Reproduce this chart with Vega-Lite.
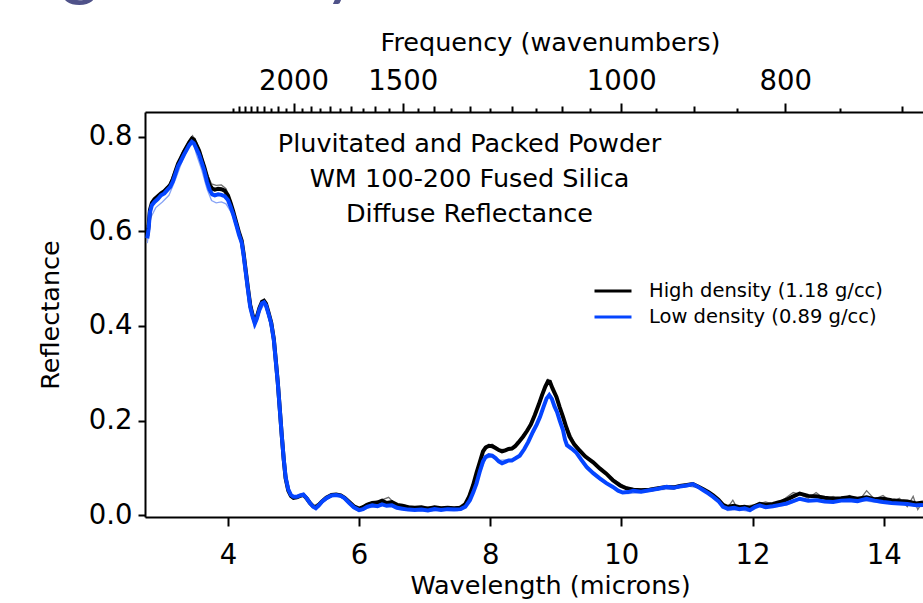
{
  "$schema": "https://vega.github.io/schema/vega-lite/v6.json",
  "autosize": {"type": "none"},
  "padding": {"left": 145, "top": 112, "right": 0, "bottom": 86},
  "width": 778,
  "height": 405,
  "background": "white",
  "title": {
    "text": "Packing Density",
    "anchor": "start",
    "frame": "group",
    "orient": "top",
    "font": "Lato",
    "fontSize": 72,
    "fontWeight": "normal",
    "color": "#4f5289",
    "baseline": "alphabetic",
    "dx": -290,
    "dy": 34,
    "offset": 0
  },
  "config": {
    "view": {"stroke": null},
    "axis": {
      "domainColor": "black",
      "tickColor": "black",
      "labelColor": "black",
      "titleColor": "black",
      "labelFont": "DejaVu Sans",
      "titleFont": "DejaVu Sans",
      "titleFontWeight": "normal",
      "labelFontSize": 27.5,
      "titleFontSize": 25.5,
      "domainWidth": 2,
      "tickWidth": 2,
      "grid": false
    }
  },
  "datasets": {
    "main": [
      {"wl": 2.77, "R": 0.590, "series": "High density (1.18 g/cc)"},
      {"wl": 2.79, "R": 0.612, "series": "High density (1.18 g/cc)"},
      {"wl": 2.81, "R": 0.645, "series": "High density (1.18 g/cc)"},
      {"wl": 2.84, "R": 0.660, "series": "High density (1.18 g/cc)"},
      {"wl": 2.88, "R": 0.668, "series": "High density (1.18 g/cc)"},
      {"wl": 2.93, "R": 0.674, "series": "High density (1.18 g/cc)"},
      {"wl": 2.98, "R": 0.680, "series": "High density (1.18 g/cc)"},
      {"wl": 3.03, "R": 0.685, "series": "High density (1.18 g/cc)"},
      {"wl": 3.08, "R": 0.692, "series": "High density (1.18 g/cc)"},
      {"wl": 3.12, "R": 0.698, "series": "High density (1.18 g/cc)"},
      {"wl": 3.16, "R": 0.710, "series": "High density (1.18 g/cc)"},
      {"wl": 3.20, "R": 0.727, "series": "High density (1.18 g/cc)"},
      {"wl": 3.24, "R": 0.743, "series": "High density (1.18 g/cc)"},
      {"wl": 3.28, "R": 0.754, "series": "High density (1.18 g/cc)"},
      {"wl": 3.33, "R": 0.768, "series": "High density (1.18 g/cc)"},
      {"wl": 3.37, "R": 0.778, "series": "High density (1.18 g/cc)"},
      {"wl": 3.41, "R": 0.788, "series": "High density (1.18 g/cc)"},
      {"wl": 3.45, "R": 0.796, "series": "High density (1.18 g/cc)"},
      {"wl": 3.48, "R": 0.794, "series": "High density (1.18 g/cc)"},
      {"wl": 3.52, "R": 0.782, "series": "High density (1.18 g/cc)"},
      {"wl": 3.56, "R": 0.770, "series": "High density (1.18 g/cc)"},
      {"wl": 3.60, "R": 0.752, "series": "High density (1.18 g/cc)"},
      {"wl": 3.64, "R": 0.735, "series": "High density (1.18 g/cc)"},
      {"wl": 3.68, "R": 0.715, "series": "High density (1.18 g/cc)"},
      {"wl": 3.72, "R": 0.698, "series": "High density (1.18 g/cc)"},
      {"wl": 3.76, "R": 0.690, "series": "High density (1.18 g/cc)"},
      {"wl": 3.80, "R": 0.688, "series": "High density (1.18 g/cc)"},
      {"wl": 3.85, "R": 0.690, "series": "High density (1.18 g/cc)"},
      {"wl": 3.90, "R": 0.689, "series": "High density (1.18 g/cc)"},
      {"wl": 3.95, "R": 0.686, "series": "High density (1.18 g/cc)"},
      {"wl": 4.00, "R": 0.676, "series": "High density (1.18 g/cc)"},
      {"wl": 4.04, "R": 0.660, "series": "High density (1.18 g/cc)"},
      {"wl": 4.08, "R": 0.642, "series": "High density (1.18 g/cc)"},
      {"wl": 4.13, "R": 0.617, "series": "High density (1.18 g/cc)"},
      {"wl": 4.17, "R": 0.597, "series": "High density (1.18 g/cc)"},
      {"wl": 4.21, "R": 0.580, "series": "High density (1.18 g/cc)"},
      {"wl": 4.24, "R": 0.552, "series": "High density (1.18 g/cc)"},
      {"wl": 4.27, "R": 0.518, "series": "High density (1.18 g/cc)"},
      {"wl": 4.30, "R": 0.485, "series": "High density (1.18 g/cc)"},
      {"wl": 4.34, "R": 0.444, "series": "High density (1.18 g/cc)"},
      {"wl": 4.38, "R": 0.421, "series": "High density (1.18 g/cc)"},
      {"wl": 4.41, "R": 0.409, "series": "High density (1.18 g/cc)"},
      {"wl": 4.44, "R": 0.419, "series": "High density (1.18 g/cc)"},
      {"wl": 4.48, "R": 0.438, "series": "High density (1.18 g/cc)"},
      {"wl": 4.52, "R": 0.451, "series": "High density (1.18 g/cc)"},
      {"wl": 4.55, "R": 0.453, "series": "High density (1.18 g/cc)"},
      {"wl": 4.58, "R": 0.447, "series": "High density (1.18 g/cc)"},
      {"wl": 4.62, "R": 0.428, "series": "High density (1.18 g/cc)"},
      {"wl": 4.66, "R": 0.407, "series": "High density (1.18 g/cc)"},
      {"wl": 4.70, "R": 0.372, "series": "High density (1.18 g/cc)"},
      {"wl": 4.73, "R": 0.327, "series": "High density (1.18 g/cc)"},
      {"wl": 4.76, "R": 0.281, "series": "High density (1.18 g/cc)"},
      {"wl": 4.79, "R": 0.226, "series": "High density (1.18 g/cc)"},
      {"wl": 4.82, "R": 0.170, "series": "High density (1.18 g/cc)"},
      {"wl": 4.85, "R": 0.119, "series": "High density (1.18 g/cc)"},
      {"wl": 4.88, "R": 0.078, "series": "High density (1.18 g/cc)"},
      {"wl": 4.92, "R": 0.052, "series": "High density (1.18 g/cc)"},
      {"wl": 4.96, "R": 0.041, "series": "High density (1.18 g/cc)"},
      {"wl": 5.00, "R": 0.037, "series": "High density (1.18 g/cc)"},
      {"wl": 5.05, "R": 0.038, "series": "High density (1.18 g/cc)"},
      {"wl": 5.10, "R": 0.041, "series": "High density (1.18 g/cc)"},
      {"wl": 5.15, "R": 0.043, "series": "High density (1.18 g/cc)"},
      {"wl": 5.20, "R": 0.036, "series": "High density (1.18 g/cc)"},
      {"wl": 5.25, "R": 0.026, "series": "High density (1.18 g/cc)"},
      {"wl": 5.30, "R": 0.019, "series": "High density (1.18 g/cc)"},
      {"wl": 5.34, "R": 0.017, "series": "High density (1.18 g/cc)"},
      {"wl": 5.38, "R": 0.021, "series": "High density (1.18 g/cc)"},
      {"wl": 5.43, "R": 0.029, "series": "High density (1.18 g/cc)"},
      {"wl": 5.50, "R": 0.037, "series": "High density (1.18 g/cc)"},
      {"wl": 5.58, "R": 0.043, "series": "High density (1.18 g/cc)"},
      {"wl": 5.65, "R": 0.044, "series": "High density (1.18 g/cc)"},
      {"wl": 5.72, "R": 0.042, "series": "High density (1.18 g/cc)"},
      {"wl": 5.78, "R": 0.037, "series": "High density (1.18 g/cc)"},
      {"wl": 5.85, "R": 0.028, "series": "High density (1.18 g/cc)"},
      {"wl": 5.92, "R": 0.019, "series": "High density (1.18 g/cc)"},
      {"wl": 6.00, "R": 0.014, "series": "High density (1.18 g/cc)"},
      {"wl": 6.06, "R": 0.017, "series": "High density (1.18 g/cc)"},
      {"wl": 6.12, "R": 0.022, "series": "High density (1.18 g/cc)"},
      {"wl": 6.20, "R": 0.026, "series": "High density (1.18 g/cc)"},
      {"wl": 6.28, "R": 0.027, "series": "High density (1.18 g/cc)"},
      {"wl": 6.35, "R": 0.031, "series": "High density (1.18 g/cc)"},
      {"wl": 6.42, "R": 0.026, "series": "High density (1.18 g/cc)"},
      {"wl": 6.50, "R": 0.028, "series": "High density (1.18 g/cc)"},
      {"wl": 6.58, "R": 0.022, "series": "High density (1.18 g/cc)"},
      {"wl": 6.66, "R": 0.020, "series": "High density (1.18 g/cc)"},
      {"wl": 6.75, "R": 0.017, "series": "High density (1.18 g/cc)"},
      {"wl": 6.85, "R": 0.016, "series": "High density (1.18 g/cc)"},
      {"wl": 6.95, "R": 0.017, "series": "High density (1.18 g/cc)"},
      {"wl": 7.05, "R": 0.014, "series": "High density (1.18 g/cc)"},
      {"wl": 7.15, "R": 0.017, "series": "High density (1.18 g/cc)"},
      {"wl": 7.25, "R": 0.015, "series": "High density (1.18 g/cc)"},
      {"wl": 7.35, "R": 0.016, "series": "High density (1.18 g/cc)"},
      {"wl": 7.45, "R": 0.015, "series": "High density (1.18 g/cc)"},
      {"wl": 7.55, "R": 0.016, "series": "High density (1.18 g/cc)"},
      {"wl": 7.62, "R": 0.024, "series": "High density (1.18 g/cc)"},
      {"wl": 7.68, "R": 0.040, "series": "High density (1.18 g/cc)"},
      {"wl": 7.74, "R": 0.064, "series": "High density (1.18 g/cc)"},
      {"wl": 7.79, "R": 0.089, "series": "High density (1.18 g/cc)"},
      {"wl": 7.84, "R": 0.112, "series": "High density (1.18 g/cc)"},
      {"wl": 7.89, "R": 0.135, "series": "High density (1.18 g/cc)"},
      {"wl": 7.93, "R": 0.143, "series": "High density (1.18 g/cc)"},
      {"wl": 7.98, "R": 0.147, "series": "High density (1.18 g/cc)"},
      {"wl": 8.03, "R": 0.146, "series": "High density (1.18 g/cc)"},
      {"wl": 8.08, "R": 0.142, "series": "High density (1.18 g/cc)"},
      {"wl": 8.13, "R": 0.138, "series": "High density (1.18 g/cc)"},
      {"wl": 8.18, "R": 0.135, "series": "High density (1.18 g/cc)"},
      {"wl": 8.23, "R": 0.137, "series": "High density (1.18 g/cc)"},
      {"wl": 8.28, "R": 0.140, "series": "High density (1.18 g/cc)"},
      {"wl": 8.33, "R": 0.141, "series": "High density (1.18 g/cc)"},
      {"wl": 8.38, "R": 0.146, "series": "High density (1.18 g/cc)"},
      {"wl": 8.43, "R": 0.154, "series": "High density (1.18 g/cc)"},
      {"wl": 8.50, "R": 0.166, "series": "High density (1.18 g/cc)"},
      {"wl": 8.56, "R": 0.178, "series": "High density (1.18 g/cc)"},
      {"wl": 8.62, "R": 0.192, "series": "High density (1.18 g/cc)"},
      {"wl": 8.68, "R": 0.212, "series": "High density (1.18 g/cc)"},
      {"wl": 8.74, "R": 0.234, "series": "High density (1.18 g/cc)"},
      {"wl": 8.79, "R": 0.254, "series": "High density (1.18 g/cc)"},
      {"wl": 8.84, "R": 0.272, "series": "High density (1.18 g/cc)"},
      {"wl": 8.88, "R": 0.283, "series": "High density (1.18 g/cc)"},
      {"wl": 8.91, "R": 0.282, "series": "High density (1.18 g/cc)"},
      {"wl": 8.95, "R": 0.268, "series": "High density (1.18 g/cc)"},
      {"wl": 9.01, "R": 0.250, "series": "High density (1.18 g/cc)"},
      {"wl": 9.06, "R": 0.228, "series": "High density (1.18 g/cc)"},
      {"wl": 9.11, "R": 0.208, "series": "High density (1.18 g/cc)"},
      {"wl": 9.16, "R": 0.186, "series": "High density (1.18 g/cc)"},
      {"wl": 9.21, "R": 0.166, "series": "High density (1.18 g/cc)"},
      {"wl": 9.28, "R": 0.150, "series": "High density (1.18 g/cc)"},
      {"wl": 9.36, "R": 0.137, "series": "High density (1.18 g/cc)"},
      {"wl": 9.45, "R": 0.124, "series": "High density (1.18 g/cc)"},
      {"wl": 9.57, "R": 0.112, "series": "High density (1.18 g/cc)"},
      {"wl": 9.67, "R": 0.099, "series": "High density (1.18 g/cc)"},
      {"wl": 9.77, "R": 0.088, "series": "High density (1.18 g/cc)"},
      {"wl": 9.87, "R": 0.074, "series": "High density (1.18 g/cc)"},
      {"wl": 9.98, "R": 0.063, "series": "High density (1.18 g/cc)"},
      {"wl": 10.08, "R": 0.057, "series": "High density (1.18 g/cc)"},
      {"wl": 10.18, "R": 0.054, "series": "High density (1.18 g/cc)"},
      {"wl": 10.30, "R": 0.053, "series": "High density (1.18 g/cc)"},
      {"wl": 10.43, "R": 0.054, "series": "High density (1.18 g/cc)"},
      {"wl": 10.56, "R": 0.057, "series": "High density (1.18 g/cc)"},
      {"wl": 10.69, "R": 0.060, "series": "High density (1.18 g/cc)"},
      {"wl": 10.80, "R": 0.059, "series": "High density (1.18 g/cc)"},
      {"wl": 10.89, "R": 0.062, "series": "High density (1.18 g/cc)"},
      {"wl": 11.00, "R": 0.064, "series": "High density (1.18 g/cc)"},
      {"wl": 11.09, "R": 0.066, "series": "High density (1.18 g/cc)"},
      {"wl": 11.17, "R": 0.061, "series": "High density (1.18 g/cc)"},
      {"wl": 11.25, "R": 0.055, "series": "High density (1.18 g/cc)"},
      {"wl": 11.33, "R": 0.049, "series": "High density (1.18 g/cc)"},
      {"wl": 11.40, "R": 0.042, "series": "High density (1.18 g/cc)"},
      {"wl": 11.48, "R": 0.033, "series": "High density (1.18 g/cc)"},
      {"wl": 11.55, "R": 0.022, "series": "High density (1.18 g/cc)"},
      {"wl": 11.62, "R": 0.018, "series": "High density (1.18 g/cc)"},
      {"wl": 11.72, "R": 0.020, "series": "High density (1.18 g/cc)"},
      {"wl": 11.80, "R": 0.017, "series": "High density (1.18 g/cc)"},
      {"wl": 11.88, "R": 0.018, "series": "High density (1.18 g/cc)"},
      {"wl": 11.96, "R": 0.015, "series": "High density (1.18 g/cc)"},
      {"wl": 12.04, "R": 0.020, "series": "High density (1.18 g/cc)"},
      {"wl": 12.11, "R": 0.024, "series": "High density (1.18 g/cc)"},
      {"wl": 12.20, "R": 0.022, "series": "High density (1.18 g/cc)"},
      {"wl": 12.31, "R": 0.024, "series": "High density (1.18 g/cc)"},
      {"wl": 12.42, "R": 0.028, "series": "High density (1.18 g/cc)"},
      {"wl": 12.52, "R": 0.033, "series": "High density (1.18 g/cc)"},
      {"wl": 12.62, "R": 0.040, "series": "High density (1.18 g/cc)"},
      {"wl": 12.72, "R": 0.046, "series": "High density (1.18 g/cc)"},
      {"wl": 12.85, "R": 0.041, "series": "High density (1.18 g/cc)"},
      {"wl": 12.97, "R": 0.040, "series": "High density (1.18 g/cc)"},
      {"wl": 13.10, "R": 0.037, "series": "High density (1.18 g/cc)"},
      {"wl": 13.23, "R": 0.035, "series": "High density (1.18 g/cc)"},
      {"wl": 13.35, "R": 0.036, "series": "High density (1.18 g/cc)"},
      {"wl": 13.48, "R": 0.038, "series": "High density (1.18 g/cc)"},
      {"wl": 13.60, "R": 0.035, "series": "High density (1.18 g/cc)"},
      {"wl": 13.74, "R": 0.038, "series": "High density (1.18 g/cc)"},
      {"wl": 13.86, "R": 0.034, "series": "High density (1.18 g/cc)"},
      {"wl": 13.99, "R": 0.035, "series": "High density (1.18 g/cc)"},
      {"wl": 14.12, "R": 0.032, "series": "High density (1.18 g/cc)"},
      {"wl": 14.24, "R": 0.030, "series": "High density (1.18 g/cc)"},
      {"wl": 14.36, "R": 0.029, "series": "High density (1.18 g/cc)"},
      {"wl": 14.50, "R": 0.025, "series": "High density (1.18 g/cc)"},
      {"wl": 14.60, "R": 0.027, "series": "High density (1.18 g/cc)"},

      {"wl": 2.77, "R": 0.585, "series": "Low density (0.89 g/cc)"},
      {"wl": 2.79, "R": 0.605, "series": "Low density (0.89 g/cc)"},
      {"wl": 2.81, "R": 0.640, "series": "Low density (0.89 g/cc)"},
      {"wl": 2.84, "R": 0.655, "series": "Low density (0.89 g/cc)"},
      {"wl": 2.88, "R": 0.662, "series": "Low density (0.89 g/cc)"},
      {"wl": 2.93, "R": 0.668, "series": "Low density (0.89 g/cc)"},
      {"wl": 2.98, "R": 0.676, "series": "Low density (0.89 g/cc)"},
      {"wl": 3.03, "R": 0.680, "series": "Low density (0.89 g/cc)"},
      {"wl": 3.08, "R": 0.688, "series": "Low density (0.89 g/cc)"},
      {"wl": 3.12, "R": 0.694, "series": "Low density (0.89 g/cc)"},
      {"wl": 3.16, "R": 0.705, "series": "Low density (0.89 g/cc)"},
      {"wl": 3.20, "R": 0.722, "series": "Low density (0.89 g/cc)"},
      {"wl": 3.24, "R": 0.738, "series": "Low density (0.89 g/cc)"},
      {"wl": 3.28, "R": 0.748, "series": "Low density (0.89 g/cc)"},
      {"wl": 3.33, "R": 0.762, "series": "Low density (0.89 g/cc)"},
      {"wl": 3.37, "R": 0.772, "series": "Low density (0.89 g/cc)"},
      {"wl": 3.41, "R": 0.782, "series": "Low density (0.89 g/cc)"},
      {"wl": 3.45, "R": 0.789, "series": "Low density (0.89 g/cc)"},
      {"wl": 3.48, "R": 0.786, "series": "Low density (0.89 g/cc)"},
      {"wl": 3.52, "R": 0.774, "series": "Low density (0.89 g/cc)"},
      {"wl": 3.56, "R": 0.762, "series": "Low density (0.89 g/cc)"},
      {"wl": 3.60, "R": 0.745, "series": "Low density (0.89 g/cc)"},
      {"wl": 3.64, "R": 0.728, "series": "Low density (0.89 g/cc)"},
      {"wl": 3.68, "R": 0.705, "series": "Low density (0.89 g/cc)"},
      {"wl": 3.72, "R": 0.688, "series": "Low density (0.89 g/cc)"},
      {"wl": 3.76, "R": 0.678, "series": "Low density (0.89 g/cc)"},
      {"wl": 3.80, "R": 0.676, "series": "Low density (0.89 g/cc)"},
      {"wl": 3.85, "R": 0.678, "series": "Low density (0.89 g/cc)"},
      {"wl": 3.90, "R": 0.677, "series": "Low density (0.89 g/cc)"},
      {"wl": 3.95, "R": 0.674, "series": "Low density (0.89 g/cc)"},
      {"wl": 4.00, "R": 0.666, "series": "Low density (0.89 g/cc)"},
      {"wl": 4.04, "R": 0.652, "series": "Low density (0.89 g/cc)"},
      {"wl": 4.08, "R": 0.636, "series": "Low density (0.89 g/cc)"},
      {"wl": 4.13, "R": 0.612, "series": "Low density (0.89 g/cc)"},
      {"wl": 4.17, "R": 0.592, "series": "Low density (0.89 g/cc)"},
      {"wl": 4.21, "R": 0.576, "series": "Low density (0.89 g/cc)"},
      {"wl": 4.24, "R": 0.548, "series": "Low density (0.89 g/cc)"},
      {"wl": 4.27, "R": 0.515, "series": "Low density (0.89 g/cc)"},
      {"wl": 4.30, "R": 0.482, "series": "Low density (0.89 g/cc)"},
      {"wl": 4.34, "R": 0.440, "series": "Low density (0.89 g/cc)"},
      {"wl": 4.38, "R": 0.418, "series": "Low density (0.89 g/cc)"},
      {"wl": 4.41, "R": 0.405, "series": "Low density (0.89 g/cc)"},
      {"wl": 4.44, "R": 0.415, "series": "Low density (0.89 g/cc)"},
      {"wl": 4.48, "R": 0.435, "series": "Low density (0.89 g/cc)"},
      {"wl": 4.52, "R": 0.448, "series": "Low density (0.89 g/cc)"},
      {"wl": 4.55, "R": 0.450, "series": "Low density (0.89 g/cc)"},
      {"wl": 4.58, "R": 0.444, "series": "Low density (0.89 g/cc)"},
      {"wl": 4.62, "R": 0.425, "series": "Low density (0.89 g/cc)"},
      {"wl": 4.66, "R": 0.405, "series": "Low density (0.89 g/cc)"},
      {"wl": 4.70, "R": 0.370, "series": "Low density (0.89 g/cc)"},
      {"wl": 4.73, "R": 0.325, "series": "Low density (0.89 g/cc)"},
      {"wl": 4.76, "R": 0.280, "series": "Low density (0.89 g/cc)"},
      {"wl": 4.79, "R": 0.225, "series": "Low density (0.89 g/cc)"},
      {"wl": 4.82, "R": 0.170, "series": "Low density (0.89 g/cc)"},
      {"wl": 4.85, "R": 0.120, "series": "Low density (0.89 g/cc)"},
      {"wl": 4.88, "R": 0.080, "series": "Low density (0.89 g/cc)"},
      {"wl": 4.92, "R": 0.055, "series": "Low density (0.89 g/cc)"},
      {"wl": 4.96, "R": 0.043, "series": "Low density (0.89 g/cc)"},
      {"wl": 5.00, "R": 0.039, "series": "Low density (0.89 g/cc)"},
      {"wl": 5.05, "R": 0.039, "series": "Low density (0.89 g/cc)"},
      {"wl": 5.10, "R": 0.042, "series": "Low density (0.89 g/cc)"},
      {"wl": 5.15, "R": 0.044, "series": "Low density (0.89 g/cc)"},
      {"wl": 5.20, "R": 0.036, "series": "Low density (0.89 g/cc)"},
      {"wl": 5.25, "R": 0.026, "series": "Low density (0.89 g/cc)"},
      {"wl": 5.30, "R": 0.018, "series": "Low density (0.89 g/cc)"},
      {"wl": 5.34, "R": 0.015, "series": "Low density (0.89 g/cc)"},
      {"wl": 5.38, "R": 0.020, "series": "Low density (0.89 g/cc)"},
      {"wl": 5.43, "R": 0.028, "series": "Low density (0.89 g/cc)"},
      {"wl": 5.50, "R": 0.036, "series": "Low density (0.89 g/cc)"},
      {"wl": 5.58, "R": 0.042, "series": "Low density (0.89 g/cc)"},
      {"wl": 5.65, "R": 0.043, "series": "Low density (0.89 g/cc)"},
      {"wl": 5.72, "R": 0.041, "series": "Low density (0.89 g/cc)"},
      {"wl": 5.78, "R": 0.036, "series": "Low density (0.89 g/cc)"},
      {"wl": 5.85, "R": 0.026, "series": "Low density (0.89 g/cc)"},
      {"wl": 5.92, "R": 0.017, "series": "Low density (0.89 g/cc)"},
      {"wl": 6.00, "R": 0.011, "series": "Low density (0.89 g/cc)"},
      {"wl": 6.06, "R": 0.013, "series": "Low density (0.89 g/cc)"},
      {"wl": 6.12, "R": 0.018, "series": "Low density (0.89 g/cc)"},
      {"wl": 6.20, "R": 0.021, "series": "Low density (0.89 g/cc)"},
      {"wl": 6.28, "R": 0.019, "series": "Low density (0.89 g/cc)"},
      {"wl": 6.35, "R": 0.023, "series": "Low density (0.89 g/cc)"},
      {"wl": 6.42, "R": 0.020, "series": "Low density (0.89 g/cc)"},
      {"wl": 6.50, "R": 0.021, "series": "Low density (0.89 g/cc)"},
      {"wl": 6.58, "R": 0.016, "series": "Low density (0.89 g/cc)"},
      {"wl": 6.66, "R": 0.014, "series": "Low density (0.89 g/cc)"},
      {"wl": 6.75, "R": 0.012, "series": "Low density (0.89 g/cc)"},
      {"wl": 6.85, "R": 0.011, "series": "Low density (0.89 g/cc)"},
      {"wl": 6.95, "R": 0.012, "series": "Low density (0.89 g/cc)"},
      {"wl": 7.05, "R": 0.010, "series": "Low density (0.89 g/cc)"},
      {"wl": 7.15, "R": 0.013, "series": "Low density (0.89 g/cc)"},
      {"wl": 7.25, "R": 0.011, "series": "Low density (0.89 g/cc)"},
      {"wl": 7.35, "R": 0.013, "series": "Low density (0.89 g/cc)"},
      {"wl": 7.45, "R": 0.012, "series": "Low density (0.89 g/cc)"},
      {"wl": 7.55, "R": 0.013, "series": "Low density (0.89 g/cc)"},
      {"wl": 7.62, "R": 0.018, "series": "Low density (0.89 g/cc)"},
      {"wl": 7.69, "R": 0.032, "series": "Low density (0.89 g/cc)"},
      {"wl": 7.74, "R": 0.048, "series": "Low density (0.89 g/cc)"},
      {"wl": 7.79, "R": 0.067, "series": "Low density (0.89 g/cc)"},
      {"wl": 7.84, "R": 0.092, "series": "Low density (0.89 g/cc)"},
      {"wl": 7.89, "R": 0.114, "series": "Low density (0.89 g/cc)"},
      {"wl": 7.93, "R": 0.123, "series": "Low density (0.89 g/cc)"},
      {"wl": 7.98, "R": 0.127, "series": "Low density (0.89 g/cc)"},
      {"wl": 8.03, "R": 0.126, "series": "Low density (0.89 g/cc)"},
      {"wl": 8.08, "R": 0.121, "series": "Low density (0.89 g/cc)"},
      {"wl": 8.13, "R": 0.114, "series": "Low density (0.89 g/cc)"},
      {"wl": 8.18, "R": 0.110, "series": "Low density (0.89 g/cc)"},
      {"wl": 8.23, "R": 0.113, "series": "Low density (0.89 g/cc)"},
      {"wl": 8.28, "R": 0.116, "series": "Low density (0.89 g/cc)"},
      {"wl": 8.33, "R": 0.116, "series": "Low density (0.89 g/cc)"},
      {"wl": 8.38, "R": 0.120, "series": "Low density (0.89 g/cc)"},
      {"wl": 8.45, "R": 0.126, "series": "Low density (0.89 g/cc)"},
      {"wl": 8.52, "R": 0.140, "series": "Low density (0.89 g/cc)"},
      {"wl": 8.58, "R": 0.155, "series": "Low density (0.89 g/cc)"},
      {"wl": 8.65, "R": 0.176, "series": "Low density (0.89 g/cc)"},
      {"wl": 8.71, "R": 0.192, "series": "Low density (0.89 g/cc)"},
      {"wl": 8.76, "R": 0.208, "series": "Low density (0.89 g/cc)"},
      {"wl": 8.81, "R": 0.228, "series": "Low density (0.89 g/cc)"},
      {"wl": 8.86, "R": 0.247, "series": "Low density (0.89 g/cc)"},
      {"wl": 8.90, "R": 0.254, "series": "Low density (0.89 g/cc)"},
      {"wl": 8.94, "R": 0.246, "series": "Low density (0.89 g/cc)"},
      {"wl": 8.98, "R": 0.230, "series": "Low density (0.89 g/cc)"},
      {"wl": 9.02, "R": 0.218, "series": "Low density (0.89 g/cc)"},
      {"wl": 9.06, "R": 0.200, "series": "Low density (0.89 g/cc)"},
      {"wl": 9.11, "R": 0.180, "series": "Low density (0.89 g/cc)"},
      {"wl": 9.14, "R": 0.160, "series": "Low density (0.89 g/cc)"},
      {"wl": 9.17, "R": 0.148, "series": "Low density (0.89 g/cc)"},
      {"wl": 9.24, "R": 0.141, "series": "Low density (0.89 g/cc)"},
      {"wl": 9.31, "R": 0.133, "series": "Low density (0.89 g/cc)"},
      {"wl": 9.39, "R": 0.117, "series": "Low density (0.89 g/cc)"},
      {"wl": 9.47, "R": 0.102, "series": "Low density (0.89 g/cc)"},
      {"wl": 9.57, "R": 0.089, "series": "Low density (0.89 g/cc)"},
      {"wl": 9.67, "R": 0.078, "series": "Low density (0.89 g/cc)"},
      {"wl": 9.77, "R": 0.068, "series": "Low density (0.89 g/cc)"},
      {"wl": 9.87, "R": 0.060, "series": "Low density (0.89 g/cc)"},
      {"wl": 9.95, "R": 0.052, "series": "Low density (0.89 g/cc)"},
      {"wl": 10.02, "R": 0.048, "series": "Low density (0.89 g/cc)"},
      {"wl": 10.10, "R": 0.049, "series": "Low density (0.89 g/cc)"},
      {"wl": 10.18, "R": 0.052, "series": "Low density (0.89 g/cc)"},
      {"wl": 10.30, "R": 0.050, "series": "Low density (0.89 g/cc)"},
      {"wl": 10.43, "R": 0.053, "series": "Low density (0.89 g/cc)"},
      {"wl": 10.56, "R": 0.056, "series": "Low density (0.89 g/cc)"},
      {"wl": 10.69, "R": 0.060, "series": "Low density (0.89 g/cc)"},
      {"wl": 10.80, "R": 0.058, "series": "Low density (0.89 g/cc)"},
      {"wl": 10.89, "R": 0.061, "series": "Low density (0.89 g/cc)"},
      {"wl": 11.00, "R": 0.063, "series": "Low density (0.89 g/cc)"},
      {"wl": 11.09, "R": 0.066, "series": "Low density (0.89 g/cc)"},
      {"wl": 11.17, "R": 0.060, "series": "Low density (0.89 g/cc)"},
      {"wl": 11.25, "R": 0.053, "series": "Low density (0.89 g/cc)"},
      {"wl": 11.33, "R": 0.046, "series": "Low density (0.89 g/cc)"},
      {"wl": 11.40, "R": 0.039, "series": "Low density (0.89 g/cc)"},
      {"wl": 11.48, "R": 0.030, "series": "Low density (0.89 g/cc)"},
      {"wl": 11.55, "R": 0.018, "series": "Low density (0.89 g/cc)"},
      {"wl": 11.62, "R": 0.014, "series": "Low density (0.89 g/cc)"},
      {"wl": 11.72, "R": 0.016, "series": "Low density (0.89 g/cc)"},
      {"wl": 11.80, "R": 0.013, "series": "Low density (0.89 g/cc)"},
      {"wl": 11.88, "R": 0.015, "series": "Low density (0.89 g/cc)"},
      {"wl": 11.96, "R": 0.011, "series": "Low density (0.89 g/cc)"},
      {"wl": 12.04, "R": 0.018, "series": "Low density (0.89 g/cc)"},
      {"wl": 12.11, "R": 0.021, "series": "Low density (0.89 g/cc)"},
      {"wl": 12.20, "R": 0.017, "series": "Low density (0.89 g/cc)"},
      {"wl": 12.31, "R": 0.019, "series": "Low density (0.89 g/cc)"},
      {"wl": 12.42, "R": 0.022, "series": "Low density (0.89 g/cc)"},
      {"wl": 12.52, "R": 0.025, "series": "Low density (0.89 g/cc)"},
      {"wl": 12.62, "R": 0.030, "series": "Low density (0.89 g/cc)"},
      {"wl": 12.72, "R": 0.035, "series": "Low density (0.89 g/cc)"},
      {"wl": 12.85, "R": 0.031, "series": "Low density (0.89 g/cc)"},
      {"wl": 12.97, "R": 0.032, "series": "Low density (0.89 g/cc)"},
      {"wl": 13.10, "R": 0.029, "series": "Low density (0.89 g/cc)"},
      {"wl": 13.23, "R": 0.028, "series": "Low density (0.89 g/cc)"},
      {"wl": 13.35, "R": 0.031, "series": "Low density (0.89 g/cc)"},
      {"wl": 13.48, "R": 0.032, "series": "Low density (0.89 g/cc)"},
      {"wl": 13.60, "R": 0.030, "series": "Low density (0.89 g/cc)"},
      {"wl": 13.74, "R": 0.035, "series": "Low density (0.89 g/cc)"},
      {"wl": 13.86, "R": 0.031, "series": "Low density (0.89 g/cc)"},
      {"wl": 13.99, "R": 0.028, "series": "Low density (0.89 g/cc)"},
      {"wl": 14.12, "R": 0.026, "series": "Low density (0.89 g/cc)"},
      {"wl": 14.24, "R": 0.025, "series": "Low density (0.89 g/cc)"},
      {"wl": 14.36, "R": 0.024, "series": "Low density (0.89 g/cc)"},
      {"wl": 14.50, "R": 0.021, "series": "Low density (0.89 g/cc)"},
      {"wl": 14.60, "R": 0.022, "series": "Low density (0.89 g/cc)"}
    ],
    "repHigh": [
      {"wl": 2.77, "R": 0.595}, {"wl": 2.82, "R": 0.652}, {"wl": 2.90, "R": 0.672}, {"wl": 3.00, "R": 0.684},
      {"wl": 3.10, "R": 0.698}, {"wl": 3.20, "R": 0.732}, {"wl": 3.30, "R": 0.766}, {"wl": 3.40, "R": 0.790},
      {"wl": 3.46, "R": 0.802}, {"wl": 3.52, "R": 0.788}, {"wl": 3.60, "R": 0.760}, {"wl": 3.68, "R": 0.722},
      {"wl": 3.75, "R": 0.700}, {"wl": 3.82, "R": 0.697}, {"wl": 3.90, "R": 0.698}, {"wl": 3.97, "R": 0.690},
      {"wl": 4.05, "R": 0.662}, {"wl": 4.15, "R": 0.608}, {"wl": 4.22, "R": 0.578}, {"wl": 4.30, "R": 0.487},
      {"wl": 4.40, "R": 0.412}, {"wl": 4.48, "R": 0.440}, {"wl": 4.55, "R": 0.456}, {"wl": 4.62, "R": 0.430},
      {"wl": 4.70, "R": 0.374}, {"wl": 4.78, "R": 0.245}, {"wl": 4.86, "R": 0.108}, {"wl": 4.94, "R": 0.045},
      {"wl": 5.05, "R": 0.036}, {"wl": 5.15, "R": 0.042}, {"wl": 5.30, "R": 0.019}, {"wl": 5.45, "R": 0.031},
      {"wl": 5.60, "R": 0.044}, {"wl": 5.75, "R": 0.040}, {"wl": 5.90, "R": 0.020}, {"wl": 6.00, "R": 0.015},
      {"wl": 6.15, "R": 0.026}, {"wl": 6.30, "R": 0.030}, {"wl": 6.45, "R": 0.038}, {"wl": 6.55, "R": 0.024},
      {"wl": 6.70, "R": 0.021}, {"wl": 6.90, "R": 0.015}, {"wl": 7.10, "R": 0.018}, {"wl": 7.30, "R": 0.014},
      {"wl": 7.50, "R": 0.017}, {"wl": 7.62, "R": 0.026}, {"wl": 7.74, "R": 0.066}, {"wl": 7.84, "R": 0.115},
      {"wl": 7.93, "R": 0.146}, {"wl": 8.03, "R": 0.150}, {"wl": 8.13, "R": 0.140}, {"wl": 8.23, "R": 0.139},
      {"wl": 8.33, "R": 0.143}, {"wl": 8.43, "R": 0.156}, {"wl": 8.56, "R": 0.180}, {"wl": 8.68, "R": 0.215},
      {"wl": 8.79, "R": 0.258}, {"wl": 8.88, "R": 0.287}, {"wl": 8.95, "R": 0.270}, {"wl": 9.06, "R": 0.232},
      {"wl": 9.16, "R": 0.190}, {"wl": 9.28, "R": 0.154}, {"wl": 9.45, "R": 0.128}, {"wl": 9.67, "R": 0.101},
      {"wl": 9.87, "R": 0.077}, {"wl": 10.08, "R": 0.058}, {"wl": 10.30, "R": 0.055}, {"wl": 10.56, "R": 0.058},
      {"wl": 10.80, "R": 0.061}, {"wl": 11.00, "R": 0.066}, {"wl": 11.17, "R": 0.062}, {"wl": 11.33, "R": 0.048},
      {"wl": 11.48, "R": 0.030}, {"wl": 11.62, "R": 0.016}, {"wl": 11.70, "R": 0.032}, {"wl": 11.78, "R": 0.012},
      {"wl": 11.90, "R": 0.020}, {"wl": 12.04, "R": 0.022}, {"wl": 12.20, "R": 0.028}, {"wl": 12.35, "R": 0.022},
      {"wl": 12.50, "R": 0.036}, {"wl": 12.62, "R": 0.048}, {"wl": 12.72, "R": 0.044}, {"wl": 12.85, "R": 0.036},
      {"wl": 12.97, "R": 0.048}, {"wl": 13.10, "R": 0.034}, {"wl": 13.23, "R": 0.040}, {"wl": 13.35, "R": 0.032},
      {"wl": 13.48, "R": 0.042}, {"wl": 13.62, "R": 0.030}, {"wl": 13.74, "R": 0.052}, {"wl": 13.86, "R": 0.034},
      {"wl": 13.99, "R": 0.042}, {"wl": 14.12, "R": 0.028}, {"wl": 14.24, "R": 0.036}, {"wl": 14.36, "R": 0.018},
      {"wl": 14.45, "R": 0.040}, {"wl": 14.52, "R": 0.012}, {"wl": 14.60, "R": 0.030}
    ],
    "repLow": [
      {"wl": 2.77, "R": 0.575}, {"wl": 2.82, "R": 0.628}, {"wl": 2.90, "R": 0.650}, {"wl": 3.00, "R": 0.662},
      {"wl": 3.10, "R": 0.676}, {"wl": 3.20, "R": 0.710}, {"wl": 3.30, "R": 0.748}, {"wl": 3.40, "R": 0.778},
      {"wl": 3.46, "R": 0.795}, {"wl": 3.52, "R": 0.762}, {"wl": 3.60, "R": 0.730}, {"wl": 3.68, "R": 0.690},
      {"wl": 3.75, "R": 0.665}, {"wl": 3.82, "R": 0.660}, {"wl": 3.90, "R": 0.662}, {"wl": 3.97, "R": 0.658},
      {"wl": 4.05, "R": 0.640}, {"wl": 4.15, "R": 0.598}, {"wl": 4.22, "R": 0.560}, {"wl": 4.30, "R": 0.472},
      {"wl": 4.40, "R": 0.398}, {"wl": 4.48, "R": 0.428}, {"wl": 4.55, "R": 0.446}, {"wl": 4.62, "R": 0.420},
      {"wl": 4.70, "R": 0.366}, {"wl": 4.78, "R": 0.240}, {"wl": 4.86, "R": 0.104}, {"wl": 4.94, "R": 0.046},
      {"wl": 5.05, "R": 0.037}, {"wl": 5.15, "R": 0.040}, {"wl": 5.30, "R": 0.016}, {"wl": 5.45, "R": 0.028},
      {"wl": 5.60, "R": 0.041}, {"wl": 5.75, "R": 0.038}, {"wl": 5.90, "R": 0.016}, {"wl": 6.00, "R": 0.008},
      {"wl": 6.15, "R": 0.016}, {"wl": 6.30, "R": 0.018}, {"wl": 6.45, "R": 0.026}, {"wl": 6.55, "R": 0.014},
      {"wl": 6.70, "R": 0.012}, {"wl": 6.90, "R": 0.010}, {"wl": 7.10, "R": 0.009}, {"wl": 7.30, "R": 0.012},
      {"wl": 7.50, "R": 0.010}, {"wl": 7.62, "R": 0.017}, {"wl": 7.74, "R": 0.046}, {"wl": 7.84, "R": 0.088},
      {"wl": 7.93, "R": 0.120}, {"wl": 8.03, "R": 0.124}, {"wl": 8.13, "R": 0.116}, {"wl": 8.23, "R": 0.117},
      {"wl": 8.33, "R": 0.118}, {"wl": 8.45, "R": 0.128}, {"wl": 8.58, "R": 0.152}, {"wl": 8.71, "R": 0.190},
      {"wl": 8.81, "R": 0.230}, {"wl": 8.90, "R": 0.258}, {"wl": 8.98, "R": 0.232}, {"wl": 9.06, "R": 0.205},
      {"wl": 9.17, "R": 0.152}, {"wl": 9.31, "R": 0.130}, {"wl": 9.47, "R": 0.098}, {"wl": 9.67, "R": 0.075},
      {"wl": 9.87, "R": 0.058}, {"wl": 10.10, "R": 0.046}, {"wl": 10.30, "R": 0.048}, {"wl": 10.56, "R": 0.054},
      {"wl": 10.80, "R": 0.056}, {"wl": 11.00, "R": 0.062}, {"wl": 11.17, "R": 0.058}, {"wl": 11.33, "R": 0.044},
      {"wl": 11.48, "R": 0.028}, {"wl": 11.62, "R": 0.010}, {"wl": 11.80, "R": 0.012}, {"wl": 11.96, "R": 0.008},
      {"wl": 12.11, "R": 0.019}, {"wl": 12.31, "R": 0.017}, {"wl": 12.52, "R": 0.022}, {"wl": 12.72, "R": 0.033},
      {"wl": 12.97, "R": 0.030}, {"wl": 13.23, "R": 0.027}, {"wl": 13.48, "R": 0.034}, {"wl": 13.74, "R": 0.030},
      {"wl": 13.99, "R": 0.026}, {"wl": 14.24, "R": 0.027}, {"wl": 14.50, "R": 0.019}, {"wl": 14.60, "R": 0.021}
    ]
  },
  "layer": [
    {
      "data": {"name": "repHigh"},
      "mark": {"type": "line", "color": "#6f6f6f", "strokeWidth": 1.3},
      "encoding": {
        "x": {
          "field": "wl", "type": "quantitative",
          "scale": {"domain": [2.735, 14.6], "nice": false, "zero": false},
          "axis": {
            "orient": "top", "labels": false, "domain": false, "title": null, "tickSize": 4,
            "values": [4.0816, 4.6512, 4.8780, 5.1282, 5.4054, 5.7143, 6.0606, 6.4516, 6.8966, 7.4074, 8.0, 8.6957, 9.5238, 10.5263, 11.7647, 13.3333]
          }
        },
        "y": {
          "field": "R", "type": "quantitative",
          "scale": {"domain": [-0.0036, 0.852], "nice": false, "zero": false},
          "axis": null
        }
      }
    },
    {
      "data": {"name": "repLow"},
      "mark": {"type": "line", "color": "#87a3f5", "strokeWidth": 1.3},
      "encoding": {
        "x": {
          "field": "wl", "type": "quantitative",
          "scale": {"domain": [2.735, 14.6], "nice": false, "zero": false},
          "axis": {
            "orient": "top", "labels": false, "domain": false, "title": null, "tickSize": 6,
            "values": [4.1667, 4.2553, 4.3478, 4.4444, 4.5455, 4.7619, 5.2632, 5.5556, 5.8824, 6.25, 7.1429, 7.6923, 8.3333, 9.0909, 11.1111, 14.2857]
          }
        },
        "y": {
          "field": "R", "type": "quantitative",
          "scale": {"domain": [-0.0036, 0.852], "nice": false, "zero": false},
          "axis": null
        }
      }
    },
    {
      "data": {"name": "main"},
      "mark": {"type": "line", "strokeWidth": 4},
      "encoding": {
        "x": {
          "field": "wl", "type": "quantitative",
          "scale": {"domain": [2.735, 14.6], "nice": false, "zero": false},
          "axis": {
            "orient": "bottom", "values": [4, 6, 8, 10, 12, 14], "tickSize": 9,
            "labelPadding": 15, "title": "Wavelength (microns)", "titlePadding": 5, "titleX": 405
          }
        },
        "y": {
          "field": "R", "type": "quantitative",
          "scale": {"domain": [-0.0036, 0.852], "nice": false, "zero": false},
          "axis": {
            "orient": "left", "values": [0, 0.2, 0.4, 0.6, 0.8], "format": ".1f", "tickSize": 7,
            "labelPadding": 6, "title": "Reflectance", "titlePadding": 25
          }
        },
        "color": {
          "field": "series", "type": "nominal",
          "scale": {"domain": ["High density (1.18 g/cc)", "Low density (0.89 g/cc)"], "range": ["#000000", "#0545ff"]},
          "legend": {
            "orient": "none", "legendX": 457, "legendY": 168, "title": null,
            "symbolType": "M -2 0 H 2", "symbolSize": 342, "symbolStrokeWidth": 3,
            "labelFont": "DejaVu Sans", "labelFontSize": 19.5, "labelColor": "black", "labelLimit": 0,
            "labelOffset": 25, "rowPadding": 5, "padding": 0
          }
        }
      }
    },
    {
      "data": {"values": [{}]},
      "mark": {
        "type": "text", "font": "DejaVu Sans", "fontSize": 25.5, "color": "black",
        "align": "center", "baseline": "alphabetic", "lineHeight": 35,
        "text": ["Pluvitated and Packed Powder", "WM 100-200 Fused Silica", "Diffuse Reflectance"]
      },
      "encoding": {
        "x": {
          "datum": 7.684, "type": "quantitative",
          "scale": {"domain": [2.735, 14.6], "nice": false, "zero": false},
          "axis": {
            "orient": "top", "values": [5, 6.6667, 10, 12.5], "labelExpr": "format(10000 / datum.value, 'd')",
            "tickSize": 9, "labelPadding": 8, "domain": true,
            "title": "Frequency (wavenumbers)", "titlePadding": 12, "titleX": 405
          }
        },
        "y": {
          "datum": 0.767, "type": "quantitative",
          "scale": {"domain": [-0.0036, 0.852], "nice": false, "zero": false},
          "axis": null
        }
      }
    }
  ],
  "resolve": {"axis": {"x": "independent", "y": "independent"}}
}
